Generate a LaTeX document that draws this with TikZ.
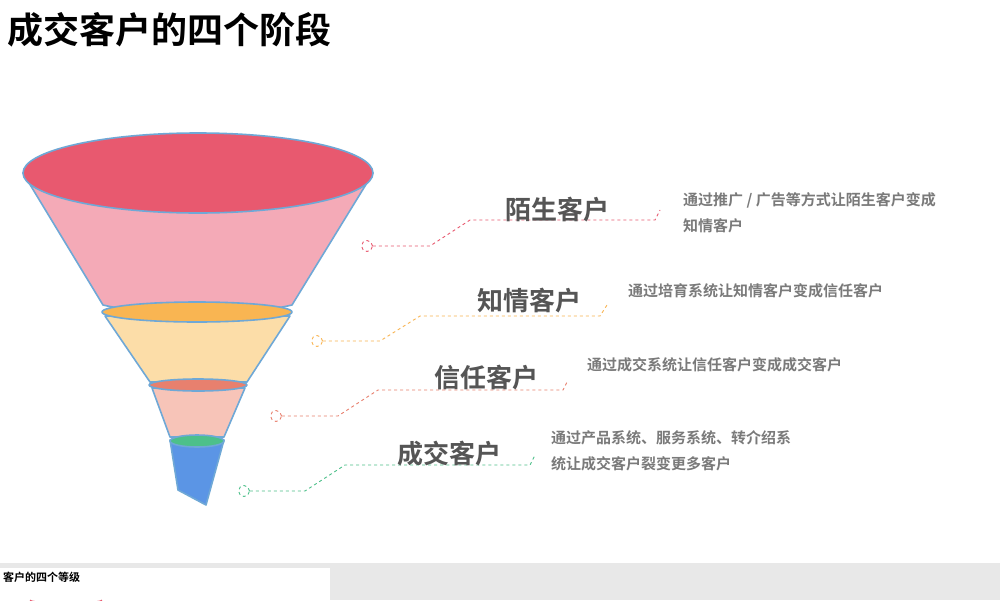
\documentclass[tikz,border=0pt]{standalone}
\usepackage{fontspec}
\setmainfont{Noto Sans CJK SC}[BoldFont={Noto Sans CJK SC Bold}]
\begin{document}
\begin{tikzpicture}[x=1pt,y=-1pt,
  edge/.style={draw=funnelline,line width=1.6pt,line join=round},
  lead/.style={dashed,line width=0.9pt},
  dot/.style={circle,draw,dashed,line width=0.9pt,minimum size=11pt,inner sep=0pt},
  stage/.style={font=\bfseries\fontsize{26}{30}\selectfont,text=labgray,anchor=center,inner sep=0pt},
  desc/.style={font=\bfseries\fontsize{15}{26}\selectfont,text=descgray,anchor=north west,align=left,inner sep=0pt}]
\definecolor{funnelline}{HTML}{6FA8D6}
\definecolor{labgray}{HTML}{555555}
\definecolor{descgray}{HTML}{7A7A7A}
\definecolor{cA}{HTML}{E8596F}\definecolor{cB}{HTML}{F4AAB7}
\definecolor{cC}{HTML}{F9B552}\definecolor{cD}{HTML}{FCDDA8}
\definecolor{cE}{HTML}{E8806E}\definecolor{cF}{HTML}{F7C4B8}
\definecolor{cG}{HTML}{4DC08A}\definecolor{cH}{HTML}{5B95E5}
\useasboundingbox (0,0) rectangle (1000,600);
\fill[white] (0,0) rectangle (1000,600);
% bottom strip
\fill[black!9] (0,563) rectangle (1000,600);
\fill[white] (0,568) rectangle (330,600);
\node[anchor=west,font=\bfseries\fontsize{11}{12}\selectfont,inner sep=0pt] (sub) at (3,577) {客户的四个等级};
\draw[cA,line width=1pt] (30,600) arc[start angle=180,end angle=0,x radius=36,y radius=3];
% title
\node[anchor=west,font=\bfseries\fontsize{36}{40}\selectfont,inner sep=0pt] (title) at (7,30) {成交客户的四个阶段};
% funnel
\draw[edge,fill=cB] (23,173) -- (103,305) .. controls (160,318) and (235,318) .. (292,305) -- (373,173) -- cycle;
\draw[edge,fill=cA] (198,173) ellipse[x radius=175,y radius=40];
\draw[edge,fill=cD] (105,316) -- (150,382) -- (247,382) -- (290,316) -- cycle;
\draw[edge,fill=cC] (197,312) ellipse[x radius=95,y radius=10];
\draw[edge,fill=cF] (152,388) -- (170,437) -- (224,437) -- (245,388) -- cycle;
\draw[edge,fill=cE] (198,385) ellipse[x radius=49,y radius=6];
\draw[edge,fill=cH] (170,440) -- (178,490) -- (206,505) -- (224,440) -- cycle;
\draw[edge,fill=cG] (197,441) ellipse[x radius=27,y radius=6];
% connectors
\node[dot,draw=cA] (d1) at (367,246) {};
\draw[lead,cA] (d1) -- (430,246) -- (470,220) -- (655,220) -- (660,210);
\node[stage] (s1) at (557,210) {陌生客户};
\node[desc] (t1) at (683,192) {通过推广 / 广告等方式让陌生客户变成\\知情客户};
\node[dot,draw=cC] (d2) at (317,341) {};
\draw[lead,cC] (d2) -- (380,341) -- (420,316) -- (600,316) -- (607,305);
\node[stage] (s2) at (529,301) {知情客户};
\node[desc] (t2) at (628,283) {通过培育系统让知情客户变成信任客户};
\node[dot,draw=cE] (d3) at (276,416) {};
\draw[lead,cE] (d3) -- (338,416) -- (378,390) -- (563,390) -- (568,380);
\node[stage] (s3) at (486,378) {信任客户};
\node[desc] (t3) at (587,357) {通过成交系统让信任客户变成成交客户};
\node[dot,draw=cG] (d4) at (244,491) {};
\draw[lead,cG] (d4) -- (305,491) -- (345,465) -- (530,465) -- (535,455);
\node[stage] (s4) at (449,454) {成交客户};
\node[desc] (t4) at (551,430) {通过产品系统、服务系统、转介绍系\\统让成交客户裂变更多客户};
\end{tikzpicture}
\end{document}
